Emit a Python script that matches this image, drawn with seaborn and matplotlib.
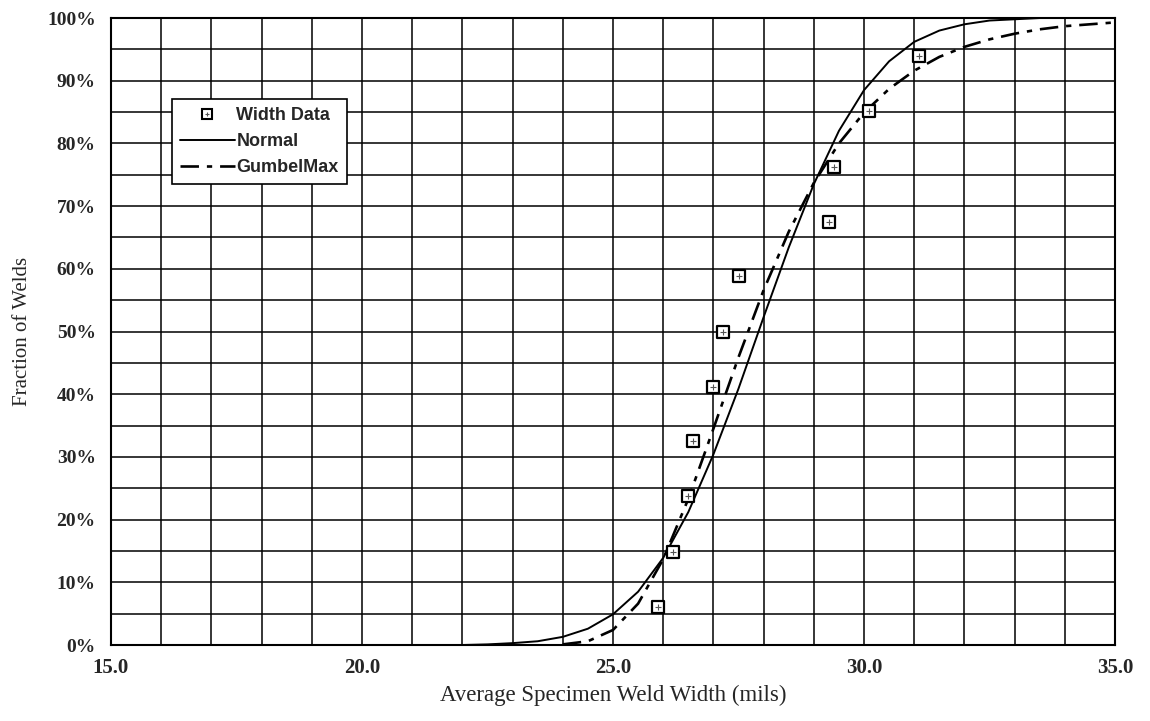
import numpy as np
import pandas as pd
import seaborn as sns
import matplotlib.pyplot as plt
from matplotlib.lines import Line2D
from matplotlib.ticker import MultipleLocator, FuncFormatter
from matplotlib.legend_handler import HandlerTuple

# measured weld widths (mils) and their cumulative fractions (%)
width_data = [25.9, 26.2, 26.5, 26.6, 27.0, 27.2, 27.5, 29.3, 29.4, 30.1, 31.1]
width_frac = [6.1, 14.9, 23.7, 32.5, 41.2, 50.0, 58.8, 67.5, 76.3, 85.1, 93.9]

# fitted normal curve
normal_x = [22.0, 22.5, 23.0, 23.5, 24.0, 24.5, 25.0, 25.5, 26.0, 26.5, 27.0,
            27.5, 28.0, 28.5, 29.0, 29.5, 30.0, 30.5, 31.0, 31.5, 32.0, 32.5,
            33.0, 33.5, 34.0, 34.5, 35.0]
normal_y = [0.0, 0.1, 0.3, 0.6, 1.3, 2.6, 4.9, 8.5, 13.9, 21.2, 30.4,
            40.9, 52.3, 63.4, 73.5, 82.0, 88.5, 93.1, 96.2, 98.0, 99.0, 99.6,
            99.8, 100.0, 100.0, 100.0, 100.0]

# fitted Gumbel max curve
gumbel_x = [24.0, 24.5, 25.0, 25.5, 26.0, 26.5, 27.0, 27.5, 28.0, 28.5, 29.0,
            29.5, 30.0, 30.5, 31.0, 31.5, 32.0, 32.5, 33.0, 33.5, 34.0, 34.5,
            35.0]
gumbel_y = [0.1, 0.6, 2.4, 6.6, 13.7, 23.3, 34.5, 45.9, 56.6, 65.9, 73.7,
            80.0, 84.9, 88.7, 91.6, 93.8, 95.4, 96.6, 97.5, 98.2, 98.7, 99.0,
            99.3]

pts = pd.DataFrame({"width": width_data, "frac": np.array(width_frac) / 100})
norm = pd.DataFrame({"x": normal_x, "y": np.array(normal_y) / 100})
gumb = pd.DataFrame({"x": gumbel_x, "y": np.array(gumbel_y) / 100})

gumbel_style = (0, (7, 3, 2, 3))

sns.set_style("white")
plt.rcParams["font.family"] = ["Liberation Serif", "DejaVu Serif"]

fig = plt.figure(figsize=(11.5, 7.21), dpi=100)
ax = fig.add_axes([0.0965, 0.1054, 0.8731, 0.8696])

sns.lineplot(data=norm, x="x", y="y", ax=ax, color="black", lw=1.4)
sns.lineplot(data=gumb, x="x", y="y", ax=ax, color="black", lw=1.9,
             linestyle=gumbel_style)
sns.scatterplot(data=pts, x="width", y="frac", ax=ax, marker="s", s=80,
                facecolor="white", edgecolor="black", linewidth=1.6, zorder=5)
sns.scatterplot(data=pts, x="width", y="frac", ax=ax, marker="+", s=16,
                color="#555555", linewidth=0.8, zorder=6)

ax.set_xlim(15, 35)
ax.set_ylim(0, 1)
ax.xaxis.set_major_locator(MultipleLocator(5))
ax.xaxis.set_minor_locator(MultipleLocator(1))
ax.yaxis.set_major_locator(MultipleLocator(0.1))
ax.yaxis.set_minor_locator(MultipleLocator(0.05))
ax.xaxis.set_major_formatter(FuncFormatter(lambda v, p: f"{v:.1f}"))
ax.yaxis.set_major_formatter(FuncFormatter(lambda v, p: f"{v * 100:.0f}%"))
ax.grid(True, which="both", color="black", lw=1.1)
ax.tick_params(axis="both", which="major", direction="out", length=6,
               width=1.3, color="black")
ax.tick_params(axis="x", which="major", labelsize=15, pad=3)
ax.tick_params(axis="y", which="major", labelsize=14, pad=5)
ax.tick_params(axis="both", which="minor", length=0)
for lab in ax.get_xticklabels() + ax.get_yticklabels():
    lab.set_fontweight("bold")
for sp in ax.spines.values():
    sp.set_color("black")
    sp.set_linewidth(1.5)

ax.set_xlabel("Average Specimen Weld Width (mils)", fontsize=16.5, labelpad=5)
ax.set_ylabel("Fraction of Welds", fontsize=15, labelpad=11)

h_sq = Line2D([], [], ls="none", marker="s", ms=7, mfc="white", mec="black", mew=1.5)
h_pl = Line2D([], [], ls="none", marker="+", ms=3.5, color="#555555", mew=0.8)
h_norm = Line2D([], [], color="black", lw=1.4)
h_gumb = Line2D([], [], color="black", lw=1.9, ls=gumbel_style)
leg = ax.legend([(h_sq, h_pl), h_norm, h_gumb], ["Width Data", "Normal", "GumbelMax"],
                handler_map={tuple: HandlerTuple(ndivide=1)},
                loc="upper left", bbox_to_anchor=(0.061, 0.871),
                frameon=True, fancybox=False, borderpad=0.45, labelspacing=0.5,
                handlelength=3.0, handletextpad=0.1, borderaxespad=0,
                prop={"family": "Liberation Sans", "weight": "bold", "size": 13})
leg.get_frame().set_edgecolor("black")
leg.get_frame().set_linewidth(1.2)
leg.get_frame().set_alpha(1)

fig.savefig("out.png", dpi=100)
